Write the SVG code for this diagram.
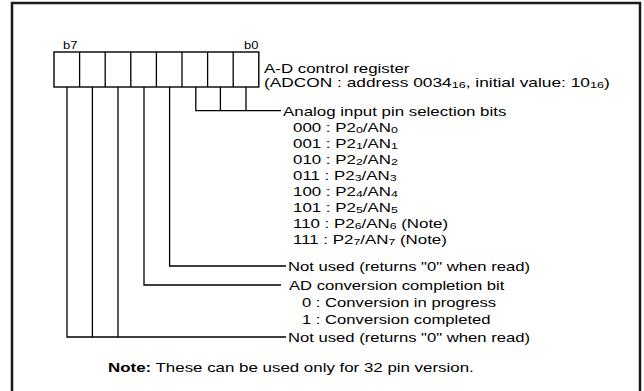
<svg xmlns="http://www.w3.org/2000/svg" width="644" height="391" viewBox="0 0 644 391">
<style>
.t{font-family:"Liberation Sans",Arial,Helvetica,sans-serif;font-size:13px;fill:#000}
.sm{font-size:10px}
.s{font-size:9.5px}
.b{font-weight:bold}
.ln{stroke:#000;stroke-width:1.3;fill:none}
.box{stroke:#000;stroke-width:1.4;fill:#fff}
.frame{stroke:#1a1a1a;stroke-width:2.5;fill:none}
</style>
<rect width="644" height="391" fill="#fff"/>
<path id="frame" class="frame" d="M12,391 V3 H640 V391"/>
<g id="register">
<rect class="box" x="54" y="52" width="204.8" height="35"/>
<path class="ln" d="M79.6,52V87M105.2,52V87M130.8,52V87M156.4,52V87M182,52V87M207.6,52V87M233.2,52V87"/>
<text class="t sm" transform="matrix(1.3,0,0,1,63,49)">b7</text>
<text class="t sm" transform="matrix(1.3,0,0,1,244,49)">b0</text>
</g>
<g id="title">
<text class="t" transform="matrix(1.3,0,0,1,264,73)">A-D control register</text>
<text class="t" transform="matrix(1.3,0,0,1,264,87)" textLength="266" lengthAdjust="spacingAndGlyphs">(ADCON : address 0034<tspan class="s" dy="1">16</tspan><tspan dy="-1">, initial value: 10</tspan><tspan class="s" dy="1">16</tspan><tspan dy="-1">)</tspan></text>
</g>
<g id="connectors">
<path class="ln" d="M195.8,87V110.7H281M220.4,87V110.7M246,87V110.7"/>
<path class="ln" d="M169.6,87V266H286"/>
<path class="ln" d="M144,87V285H281"/>
<path class="ln" d="M67,87V337H286M92.4,87V337M118,87V337"/>
</g>
<g id="analog">
<text class="t" transform="matrix(1.3,0,0,1,283,115.5)">Analog input pin selection bits</text>
<text class="t" transform="matrix(1.3,0,0,1,293,131.7)">000 : P2<tspan class="s" dy="1">0</tspan><tspan dy="-1">/AN</tspan><tspan class="s" dy="1">0</tspan></text>
<text class="t" transform="matrix(1.3,0,0,1,293,147.7)">001 : P2<tspan class="s" dy="1">1</tspan><tspan dy="-1">/AN</tspan><tspan class="s" dy="1">1</tspan></text>
<text class="t" transform="matrix(1.3,0,0,1,293,163.7)">010 : P2<tspan class="s" dy="1">2</tspan><tspan dy="-1">/AN</tspan><tspan class="s" dy="1">2</tspan></text>
<text class="t" transform="matrix(1.3,0,0,1,293,179.7)">011 : P2<tspan class="s" dy="1">3</tspan><tspan dy="-1">/AN</tspan><tspan class="s" dy="1">3</tspan></text>
<text class="t" transform="matrix(1.3,0,0,1,293,195.7)">100 : P2<tspan class="s" dy="1">4</tspan><tspan dy="-1">/AN</tspan><tspan class="s" dy="1">4</tspan></text>
<text class="t" transform="matrix(1.3,0,0,1,293,211.7)">101 : P2<tspan class="s" dy="1">5</tspan><tspan dy="-1">/AN</tspan><tspan class="s" dy="1">5</tspan></text>
<text class="t" transform="matrix(1.3,0,0,1,293,227.7)">110 : P2<tspan class="s" dy="1">6</tspan><tspan dy="-1">/AN</tspan><tspan class="s" dy="1">6</tspan><tspan dy="-1"> (Note)</tspan></text>
<text class="t" transform="matrix(1.3,0,0,1,293,243.7)">111 : P2<tspan class="s" dy="1">7</tspan><tspan dy="-1">/AN</tspan><tspan class="s" dy="1">7</tspan><tspan dy="-1"> (Note)</tspan></text>
</g>
<g id="b3">
<text class="t" transform="matrix(1.28,0,0,1,288,270.7)">Not used (returns "0" when read)</text>
</g>
<g id="b4">
<text class="t" transform="matrix(1.28,0,0,1,289,289.7)">AD conversion completion bit</text>
<text class="t" transform="matrix(1.28,0,0,1,302,306.7)">0 : Conversion in progress</text>
<text class="t" transform="matrix(1.28,0,0,1,302,323.7)">1 : Conversion completed</text>
</g>
<g id="b765">
<text class="t" transform="matrix(1.28,0,0,1,288,341.7)">Not used (returns "0" when read)</text>
</g>
<g id="note">
<text class="t" transform="matrix(1.3,0,0,1,108,371.7)"><tspan class="b">Note:</tspan> These can be used only for 32 pin version.</text>
</g>
</svg>
